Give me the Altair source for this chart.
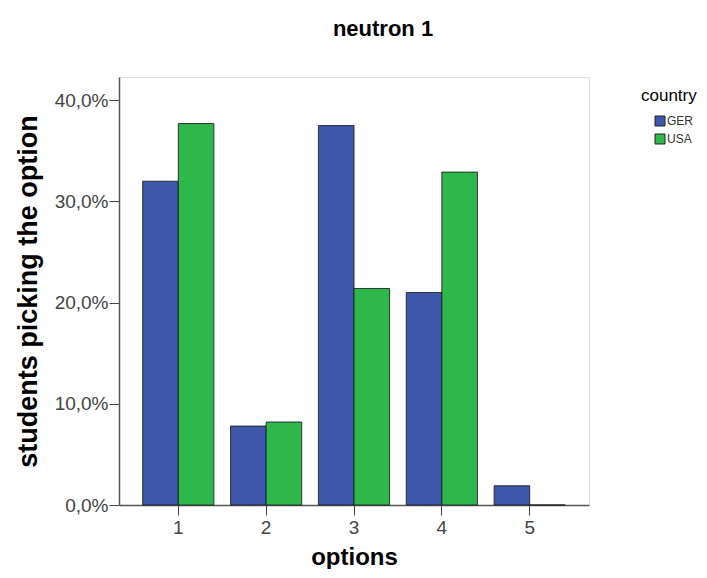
import altair as alt
import pandas as pd

options = ["1", "2", "3", "4", "5"]
ger = [0.320, 0.078, 0.375, 0.210, 0.019]
usa = [0.377, 0.082, 0.214, 0.329, 0.0]
countries = ["GER", "USA"]
colors = ["#3d57aa", "#2eb84b"]
y_ticks = [0.0, 0.1, 0.2, 0.3, 0.4]

rows = []
for o, g, u in zip(options, ger, usa):
    rows.append({"option": o, "country": "GER", "share": g})
    rows.append({"option": o, "country": "USA", "share": u})
df = pd.DataFrame(rows)

FONT = "Liberation Sans"

chart = alt.Chart(df).mark_bar(
    stroke="#1a1a1a", strokeWidth=1, strokeOpacity=0.85
).encode(
    x=alt.X(
        "option:N",
        sort=options,
        scale=alt.Scale(paddingInner=0.19, paddingOuter=0.27),
        axis=alt.Axis(
            title="options", labelAngle=0, labelFontSize=19, labelColor="#444",
            labelFont=FONT, titleFont=FONT, titleFontSize=24, titleFontWeight="bold",
            titleColor="#000", titlePadding=8, tickSize=10, tickColor="#444",
            domainColor="#555", domainWidth=1.5, labelPadding=3,
        ),
    ),
    xOffset=alt.XOffset("country:N", sort=countries,
                        scale=alt.Scale(paddingInner=0, paddingOuter=0)),
    y=alt.Y(
        "share:Q",
        scale=alt.Scale(domain=[0, 0.423], nice=False),
        axis=alt.Axis(
            title="students picking the option", values=y_ticks,
            labelExpr="replace(format(datum.value, '.1%'), '.', ',')",
            labelFontSize=19, labelColor="#444", labelFont=FONT,
            titleFont=FONT, titleFontSize=27, titleFontWeight="bold",
            titleColor="#000", titlePadding=12, tickSize=10, tickColor="#444",
            domainColor="#555", domainWidth=1.5, grid=False, labelPadding=1,
        ),
    ),
    color=alt.Color(
        "country:N",
        scale=alt.Scale(domain=countries, range=colors),
        legend=alt.Legend(
            title="country", orient="none", legendX=522, legendY=11,
            titleFont=FONT, titleFontSize=17, titleFontWeight="normal",
            titleColor="#000", labelFont=FONT, labelFontSize=12,
            labelColor="#333", symbolType="square", symbolSize=100,
            symbolStrokeColor="#222", symbolStrokeWidth=1, symbolOffset=13,
            titlePadding=10, rowPadding=4, labelOffset=1,
        ),
    ),
).properties(
    width=470,
    height=428,
    autosize=alt.AutoSizeParams(type="none"),
    padding={"left": 111, "top": 69, "right": 110, "bottom": 64},
    title=alt.Title("neutron 1", font=FONT, fontSize=22, fontWeight="bold",
                    color="#000", anchor="middle", dx=29, offset=36),
).configure_view(
    stroke="#555", strokeWidth=1.5, fill="#f0f0f0"
).configure(background="white")

chart.save("out.html", embed_options={"renderer": "svg", "actions": False})
